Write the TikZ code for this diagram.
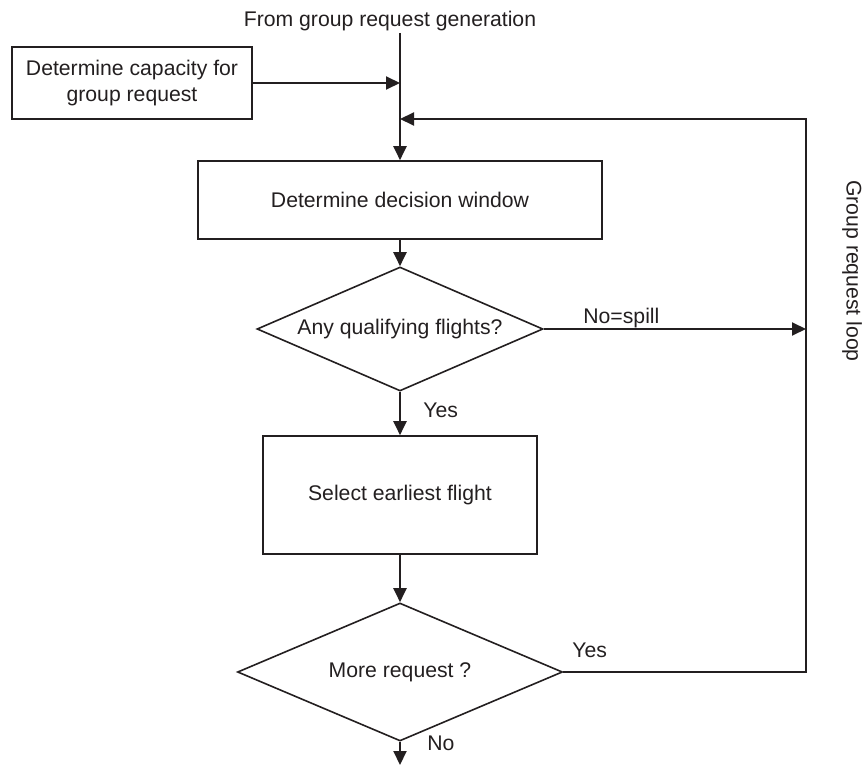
\documentclass[tikz,border=0pt]{standalone}
\usepackage{fontspec}
\setmainfont{Liberation Sans}
\usetikzlibrary{shapes.geometric,arrows.meta}
\definecolor{ink}{RGB}{35,31,32}
\tikzset{
  box/.style={draw=ink, line width=0.8pt, rectangle, inner sep=0pt, align=center, text=ink},
  decision/.style={draw=ink, line width=0.8pt, diamond, inner sep=0pt, aspect=2.3, text=ink},
  lbl/.style={text=ink, inner sep=0pt},
  arr/.style={draw=ink, line width=1pt, -{Triangle[length=7pt,width=6.5pt]}},
}
\begin{document}
\begin{tikzpicture}[x=0.5pt, y=-0.5pt, font=\fontsize{10.6}{12.6}\selectfont]
  \useasboundingbox (0,0) rectangle (863,765);

  \node[lbl, anchor=base] (src) at (390,27) {From group request generation};
  \coordinate (top) at (400,33);
  \coordinate (in1) at (400,83);
  \coordinate (in2) at (400,119);

  \node[box, minimum width=120pt, minimum height=36pt] (cap) at (132,83) {Determine capacity for\\group request};
  \node[box, minimum width=202pt, minimum height=39pt] (win) at (400,200) {Determine decision window};
  \node[decision, minimum width=143pt, minimum height=62pt] (q1) at (400,329) {Any qualifying flights?};
  \node[box, minimum width=137pt, minimum height=59pt] (sel) at (400,495) {Select earliest flight};
  \node[decision, minimum width=162.5pt, minimum height=69pt] (q2) at (400,672) {More request ?};
  \coordinate (out) at (400,765);

  % loop on the right
  \coordinate (c1) at (806,672);
  \coordinate (c2) at (806,119);
  \coordinate (spill) at (806,329);

  \draw[arr] (top) -- (win.north);
  \draw[arr] (cap.east) -- (in1);
  \draw[arr] (win.south) -- (q1.north);
  \draw[arr] (q1.south) -- (sel.north);
  \draw[arr] (sel.south) -- (q2.north);
  \draw[arr] (q2.south) -- (out);
  \draw[arr] (q1.east) -- (spill);
  \draw[arr] (q2.east) -- (c1) -- (c2) -- (in2);

  \node[lbl, anchor=base west] (nospill) at (583,323) {No=spill};
  \node[lbl, anchor=base west] (yes1) at (423,417) {Yes};
  \node[lbl, anchor=base west] (yes2) at (572,657) {Yes};
  \node[lbl, anchor=base west] (no2) at (427,750) {No};
  \node[lbl, rotate=-90] (loop) at (852,271) {Group request loop};
\end{tikzpicture}
\end{document}
